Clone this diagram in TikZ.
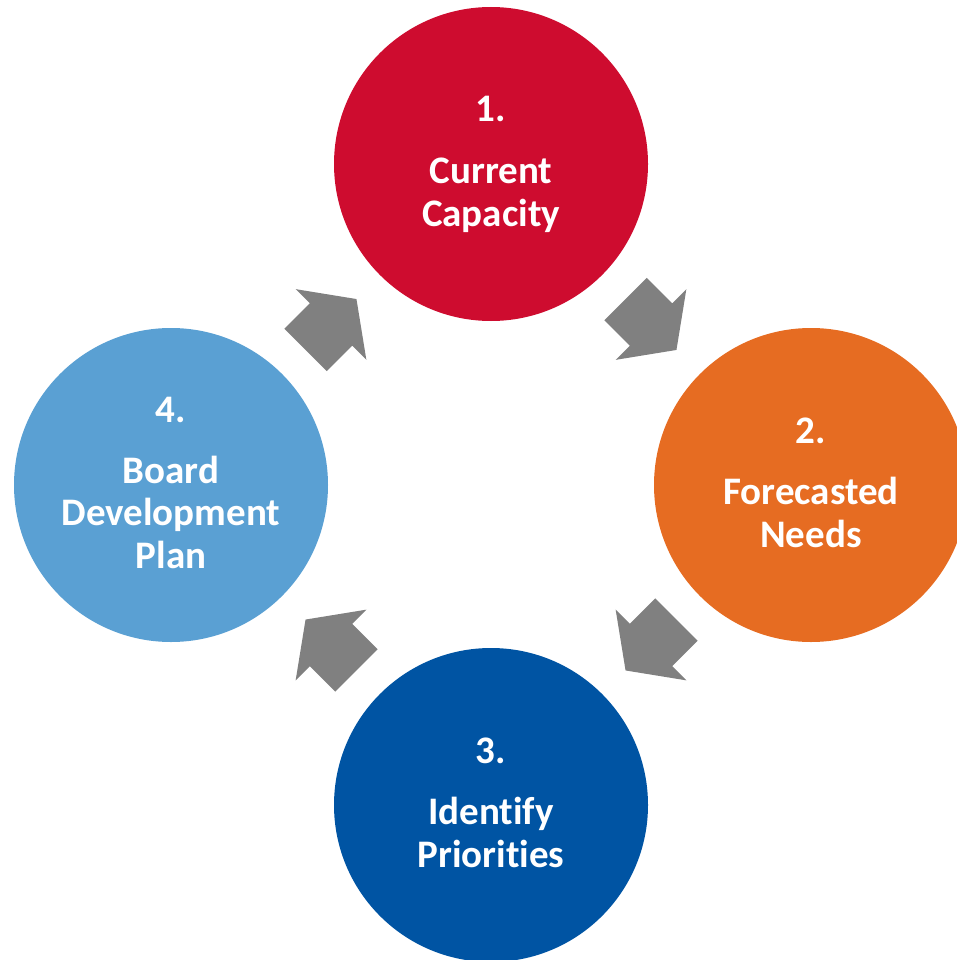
\documentclass[tikz,border=0pt]{standalone}
\usepackage{fontspec}
\setmainfont{Carlito}[Ligatures={NoCommon}]
\usetikzlibrary{calc}
\definecolor{cred}{HTML}{CE0C2F}
\definecolor{corange}{HTML}{E66C22}
\definecolor{cdblue}{HTML}{0054A3}
\definecolor{clblue}{HTML}{5AA0D3}
\definecolor{arrowgray}{HTML}{808080}
\tikzset{
  stage/.style={circle, minimum size=314pt, inner sep=0pt, draw=none},
  lbl/.style={anchor=base, text=white, inner sep=0pt, font=\fontsize{39}{43}\selectfont\bfseries},
  pics/cyclearrow/.style={code={
    \fill[arrowgray] (-36,-30) -- (0,-30) -- (0,-50) -- (36,0) -- (0,50) -- (0,30) -- (-36,30) -- cycle;}}
}
\begin{document}
\begin{tikzpicture}[x=1pt,y=-1pt]
\useasboundingbox (0,0) rectangle (956,960);
\node[stage, fill=cred] (c1) at (491,164) {};
\node[stage, fill=corange] (c2) at (811,485) {};
\node[stage, fill=cdblue] (c3) at (491,805) {};
\node[stage, fill=clblue] (c4) at (171,485) {};
% labels
\node[lbl] (t1a) at ($(c1)+(0,-42)$) {1.};
\node[lbl] (t1b) at ($(c1)+(0,19)$) {Current};
\node[lbl] (t1c) at ($(c1)+(0,62)$) {Capacity};
\node[lbl] (t2a) at ($(c2)+(0,-42)$) {2.};
\node[lbl] (t2b) at ($(c2)+(0,19)$) {Forecasted};
\node[lbl] (t2c) at ($(c2)+(0,62)$) {Needs};
\node[lbl] (t3a) at ($(c3)+(0,-42)$) {3.};
\node[lbl] (t3b) at ($(c3)+(0,19)$) {Identify};
\node[lbl] (t3c) at ($(c3)+(0,62)$) {Priorities};
\node[lbl] (t4a) at ($(c4)+(0,-63)$) {4.};
\node[lbl] (t4b) at ($(c4)+(0,-2)$) {Board};
\node[lbl] (t4c) at ($(c4)+(0,40)$) {Development};
\node[lbl] (t4d) at ($(c4)+(0,83)$) {Plan};
% arrows
\pic[rotate=-45] at ($(c1)!0.5!(c2)$) {cyclearrow};
\pic[rotate=-135] at ($(c2)!0.5!(c3)$) {cyclearrow};
\pic[rotate=135] at ($(c3)!0.5!(c4)$) {cyclearrow};
\pic[rotate=45] at ($(c4)!0.5!(c1)$) {cyclearrow};
\end{tikzpicture}
\end{document}
